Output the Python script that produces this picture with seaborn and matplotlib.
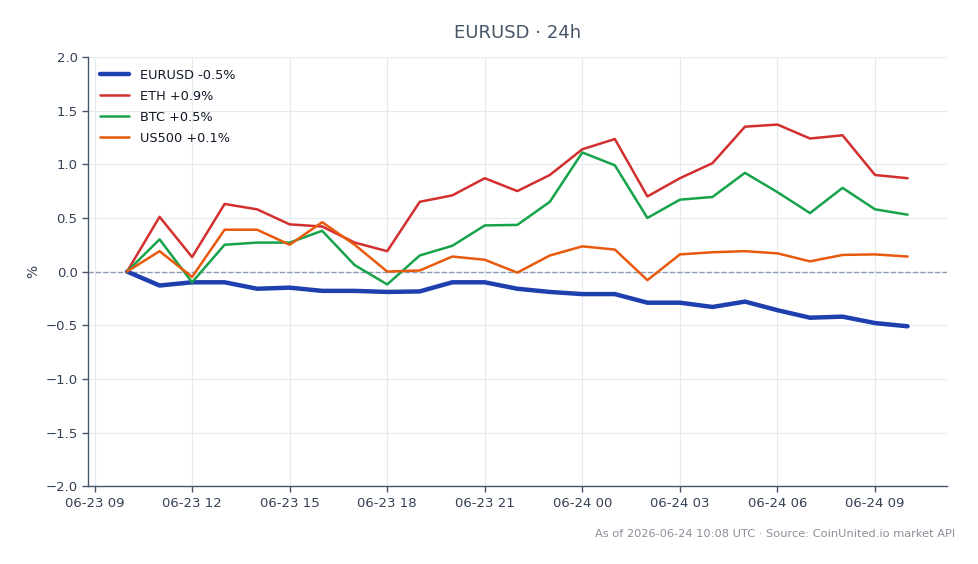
import pandas as pd
import numpy as np
import matplotlib
matplotlib.use("Agg")
import matplotlib.pyplot as plt
import matplotlib.dates as mdates
import seaborn as sns

#%% data (hourly % change, 24h window)

times = pd.date_range("2026-06-23 10:00", "2026-06-24 10:00", freq="h")

eurusd = [0.0, -0.13, -0.10, -0.10, -0.16, -0.15, -0.18, -0.18, -0.19, -0.185,
          -0.10, -0.10, -0.16, -0.19, -0.21, -0.21, -0.29, -0.29, -0.33, -0.28,
          -0.36, -0.43, -0.42, -0.48, -0.51]
eth = [0.0, 0.51, 0.135, 0.63, 0.58, 0.44, 0.42, 0.27, 0.19, 0.65,
       0.71, 0.87, 0.75, 0.90, 1.14, 1.235, 0.70, 0.87, 1.01, 1.35,
       1.37, 1.24, 1.27, 0.90, 0.87]
btc = [0.0, 0.30, -0.10, 0.25, 0.27, 0.27, 0.38, 0.06, -0.12, 0.15,
       0.24, 0.43, 0.435, 0.65, 1.11, 0.99, 0.50, 0.67, 0.695, 0.92,
       0.74, 0.545, 0.78, 0.58, 0.53]
us500 = [0.0, 0.19, -0.05, 0.39, 0.39, 0.25, 0.46, 0.25, 0.0, 0.01,
         0.14, 0.11, -0.01, 0.15, 0.235, 0.205, -0.08, 0.16, 0.18, 0.19,
         0.17, 0.095, 0.155, 0.16, 0.14]

labels = ["EURUSD -0.5%", "ETH +0.9%", "BTC +0.5%", "US500 +0.1%"]
colors = ["#1e40af", "#d32f2f", "#16a34a", "#e8590c"]
widths = [3.2, 1.8, 1.8, 1.8]

#%% plot

sns.set_style("white")
plt.rcParams['font.family'] = ['DejaVu Sans']

fig = plt.figure(figsize=(9.79, 5.64), dpi=100)
ax = fig.add_axes([0.0899, 0.138, 0.877, 0.761])

for vals, lab, col, lw in zip([eurusd, eth, btc, us500], labels, colors, widths):
    df = pd.DataFrame({"time": times, "pct": vals})
    sns.lineplot(data=df, x="time", y="pct", color=col, linewidth=lw, label=lab, ax=ax)

ax.axhline(0, color="#8b9ab3", linestyle="--", linewidth=1, zorder=1.5)

ax.set_ylim(-2.0, 2.0)
ax.set_yticks(np.arange(-2.0, 2.01, 0.5))
ax.xaxis.set_major_locator(mdates.HourLocator(byhour=range(0, 24, 3)))
ax.xaxis.set_major_formatter(mdates.DateFormatter("%m-%d %H"))

ax.grid(True, color="#e5e9f0", linewidth=0.8)
ax.set_axisbelow(True)
for s in ["top", "right"]:
    ax.spines[s].set_visible(False)
for s in ["left", "bottom"]:
    ax.spines[s].set_color("#475569")
    ax.spines[s].set_linewidth(1)
ax.tick_params(axis="both", colors="#475569", labelsize=9.5, length=4, width=1,
               labelcolor="#334155")
ax.tick_params(axis="both", bottom=True, left=True)

ax.set_xlabel("")
ax.set_ylabel("%", color="#334155", fontsize=10)
ax.set_title("EURUSD · 24h", color="#475569", fontsize=13, pad=14)

ax.legend(loc="upper left", frameon=False, fontsize=9.3, handlelength=2.3,
          labelspacing=0.62, labelcolor="#111827")

fig.text(0.976, 0.054, "As of 2026-06-24 10:08 UTC · Source: CoinUnited.io market API",
         ha="right", va="center", fontsize=8.2, color="#8a8f98")

fig.savefig("out.png", dpi=100)
